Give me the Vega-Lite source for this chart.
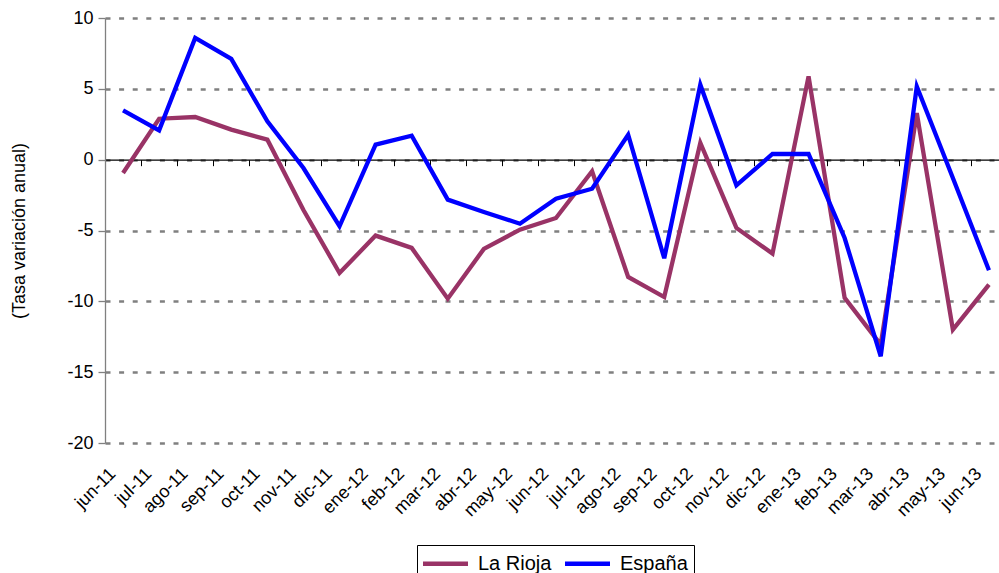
{
  "$schema": "https://vega.github.io/schema/vega-lite/v6.json",
  "width": 902,
  "height": 425,
  "autosize": {"type": "none"},
  "padding": {"left": 105, "top": 18, "right": 0, "bottom": 130},
  "config": {
    "font": "Liberation Sans",
    "view": {"stroke": null},
    "axis": {"labelFont": "Liberation Sans", "titleFont": "Liberation Sans", "labelColor": "#000000", "titleColor": "#000000"}
  },
  "datasets": {
    "d": [
      {"mes": "jun-11", "serie": "La Rioja", "valor": -0.94},
      {"mes": "jul-11", "serie": "La Rioja", "valor": 2.89},
      {"mes": "ago-11", "serie": "La Rioja", "valor": 3.01},
      {"mes": "sep-11", "serie": "La Rioja", "valor": 2.12},
      {"mes": "oct-11", "serie": "La Rioja", "valor": 1.41},
      {"mes": "nov-11", "serie": "La Rioja", "valor": -3.55},
      {"mes": "dic-11", "serie": "La Rioja", "valor": -8.0},
      {"mes": "ene-12", "serie": "La Rioja", "valor": -5.36},
      {"mes": "feb-12", "serie": "La Rioja", "valor": -6.23},
      {"mes": "mar-12", "serie": "La Rioja", "valor": -9.81},
      {"mes": "abr-12", "serie": "La Rioja", "valor": -6.3},
      {"mes": "may-12", "serie": "La Rioja", "valor": -4.94},
      {"mes": "jun-12", "serie": "La Rioja", "valor": -4.12},
      {"mes": "jul-12", "serie": "La Rioja", "valor": -0.82},
      {"mes": "ago-12", "serie": "La Rioja", "valor": -8.28},
      {"mes": "sep-12", "serie": "La Rioja", "valor": -9.7},
      {"mes": "oct-12", "serie": "La Rioja", "valor": 1.18},
      {"mes": "nov-12", "serie": "La Rioja", "valor": -4.82},
      {"mes": "dic-12", "serie": "La Rioja", "valor": -6.63},
      {"mes": "ene-13", "serie": "La Rioja", "valor": 5.88},
      {"mes": "feb-13", "serie": "La Rioja", "valor": -9.76},
      {"mes": "mar-13", "serie": "La Rioja", "valor": -13.06},
      {"mes": "abr-13", "serie": "La Rioja", "valor": 3.29},
      {"mes": "may-13", "serie": "La Rioja", "valor": -12.0},
      {"mes": "jun-13", "serie": "La Rioja", "valor": -8.82},
      {"mes": "jun-11", "serie": "España", "valor": 3.48},
      {"mes": "jul-11", "serie": "España", "valor": 2.07},
      {"mes": "ago-11", "serie": "España", "valor": 8.59},
      {"mes": "sep-11", "serie": "España", "valor": 7.11},
      {"mes": "oct-11", "serie": "España", "valor": 2.7},
      {"mes": "nov-11", "serie": "España", "valor": -0.59},
      {"mes": "dic-11", "serie": "España", "valor": -4.7},
      {"mes": "ene-12", "serie": "España", "valor": 1.06},
      {"mes": "feb-12", "serie": "España", "valor": 1.69},
      {"mes": "mar-12", "serie": "España", "valor": -2.82},
      {"mes": "abr-12", "serie": "España", "valor": -3.7},
      {"mes": "may-12", "serie": "España", "valor": -4.52},
      {"mes": "jun-12", "serie": "España", "valor": -2.75},
      {"mes": "jul-12", "serie": "España", "valor": -2.05},
      {"mes": "ago-12", "serie": "España", "valor": 1.76},
      {"mes": "sep-12", "serie": "España", "valor": -6.96},
      {"mes": "oct-12", "serie": "España", "valor": 5.29},
      {"mes": "nov-12", "serie": "España", "valor": -1.81},
      {"mes": "dic-12", "serie": "España", "valor": 0.4},
      {"mes": "ene-13", "serie": "España", "valor": 0.4},
      {"mes": "feb-13", "serie": "España", "valor": -5.53},
      {"mes": "mar-13", "serie": "España", "valor": -13.88},
      {"mes": "abr-13", "serie": "España", "valor": 5.17},
      {"mes": "may-13", "serie": "España", "valor": -1.3},
      {"mes": "jun-13", "serie": "España", "valor": -7.81}
    ]
  },
  "data": {"name": "d"},
  "layer": [
    {
      "mark": {"type": "line", "strokeWidth": 4, "strokeOpacity": 0},
      "encoding": {
        "x": {
          "field": "mes", "type": "ordinal", "sort": null,
          "axis": {"orient": "bottom", "offset": -283.33, "labels": false, "title": null, "domain": true, "domainColor": "#000000", "domainWidth": 1.3, "ticks": true, "tickColor": "#000000", "tickSize": 6, "tickBand": "extent", "grid": false, "zindex": 0}
        },
        "y": {"field": "valor", "type": "quantitative"},
        "detail": {"field": "serie"}
      }
    },
    {
      "mark": {"type": "line", "strokeWidth": 4.3},
      "encoding": {
        "x": {
          "field": "mes", "type": "ordinal", "sort": null,
          "axis": {"orient": "bottom", "title": null, "domain": false, "ticks": false, "grid": false, "labelAngle": -45, "labelAlign": "right", "labelBaseline": "middle", "labelFontSize": 18, "labelPadding": 28, "labelOffset": -10}
        },
        "y": {
          "field": "valor", "type": "quantitative",
          "scale": {"domain": [-20, 10], "nice": false},
          "axis": {"values": [-20, -15, -10, -5, 0, 5, 10], "labelExpr": "datum.value + ''", "title": "(Tasa variación anual)", "titleFontSize": 18, "titleFontWeight": "normal", "titlePadding": 38, "labelFontSize": 18, "labelPadding": 5, "domainColor": "#808080", "domainWidth": 1.3, "tickColor": "#808080", "tickSize": 7, "tickWidth": 1.3, "grid": true, "gridColor": "#808080", "gridDash": [5, 8.6], "gridWidth": 2.6, "zindex": 0}
        },
        "color": {
          "field": "serie", "type": "nominal",
          "scale": {"domain": ["La Rioja", "España"], "range": ["#993366", "#0000FF"]},
          "legend": {"title": null, "orient": "none", "legendX": 312, "legendY": 527, "direction": "horizontal", "symbolType": "M-2.25,0H2.25", "symbolSize": 400, "symbolStrokeWidth": 4.5, "symbolOffset": 10, "labelFontSize": 20, "labelColor": "#000000", "strokeColor": "#000000", "padding": 6, "columnPadding": 4, "labelOffset": 20, "fillColor": "#ffffff"}
        }
      }
    }
  ],
  "resolve": {"axis": {"x": "independent"}}
}
